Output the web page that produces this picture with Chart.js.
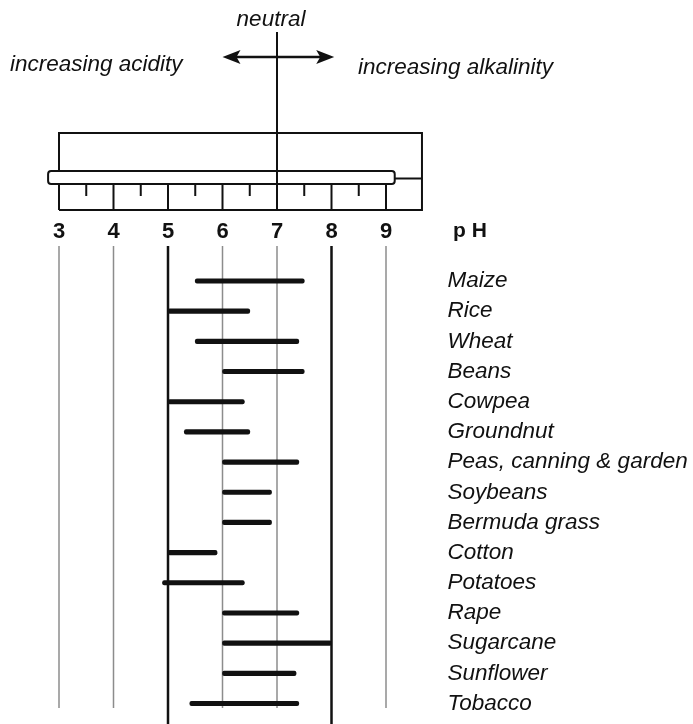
<!DOCTYPE html>
<html>
<head>
<meta charset="utf-8">
<script src="https://cdn.jsdelivr.net/npm/chart.js@4"></script>
<style>
  body { margin: 0; background: #fff; }
  #chart { display: block; }
</style>
</head>
<body>
<canvas id="chart" width="693" height="724"></canvas>
<script>
// crops and their pH range
const crops = ['Maize', 'Rice', 'Wheat', 'Beans', 'Cowpea', 'Groundnut', 'Peas, canning & garden',
  'Soybeans', 'Bermuda grass', 'Cotton', 'Potatoes', 'Rape', 'Sugarcane', 'Sunflower', 'Tobacco'];
const phLow  = [5.5, 5.0, 5.5, 6.0, 5.0, 5.3, 6.0, 6.0, 6.0, 5.0, 4.9, 6.0, 6.0, 6.0, 5.4];
const phHigh = [7.5, 6.5, 7.4, 7.5, 6.4, 6.5, 7.4, 6.9, 6.9, 5.9, 6.4, 7.4, 8.0, 7.35, 7.4];

const phTicks = [3, 4, 5, 6, 7, 8, 9];
const thinLines = [3, 4, 6, 7, 9];
const thickLines = [5, 8];

const font = '"Liberation Sans", Arial, Helvetica, sans-serif';

const rulerPlugin = {
  id: 'ruler',
  beforeDatasetsDraw(chart) {
    const ctx = chart.ctx;
    const x = chart.scales.x;
    ctx.save();
    ctx.lineCap = 'butt';
    ctx.strokeStyle = '#8c8c8c';
    ctx.lineWidth = 1.5;
    thinLines.forEach(v => {
      const px = x.getPixelForValue(v);
      ctx.beginPath(); ctx.moveTo(px, 246); ctx.lineTo(px, 708); ctx.stroke();
    });
    ctx.strokeStyle = '#111';
    ctx.lineWidth = 2.5;
    thickLines.forEach(v => {
      const px = x.getPixelForValue(v);
      ctx.beginPath(); ctx.moveTo(px, 246); ctx.lineTo(px, 724); ctx.stroke();
    });
    ctx.restore();
  },
  beforeDraw(chart) {
    const ctx = chart.ctx;
    const x = chart.scales.x;
    const px = v => x.getPixelForValue(v);
    ctx.save();
    ctx.strokeStyle = '#111';
    ctx.fillStyle = '#111';
    ctx.lineWidth = 2;

    const left = px(3), right = px(9.66);
    // outer box
    ctx.beginPath();
    ctx.moveTo(left, 210); ctx.lineTo(left, 133); ctx.lineTo(right, 133); ctx.lineTo(right, 210); ctx.lineTo(left, 210);
    ctx.stroke();
    // major / minor ticks
    phTicks.forEach(v => {
      ctx.beginPath(); ctx.moveTo(px(v), 184); ctx.lineTo(px(v), 210); ctx.stroke();
      if (v < 9) {
        ctx.beginPath(); ctx.moveTo(px(v + 0.5), 184); ctx.lineTo(px(v + 0.5), 196); ctx.stroke();
      }
    });
    // slider
    const sl = px(2.8), sr = px(9.16);
    ctx.beginPath(); ctx.moveTo(sr, 178.5); ctx.lineTo(right, 178.5); ctx.stroke();
    ctx.fillStyle = '#fff';
    ctx.beginPath(); ctx.roundRect(sl, 171, sr - sl, 13, 3); ctx.fill(); ctx.stroke();
    ctx.fillStyle = '#111';
    // neutral line
    ctx.beginPath(); ctx.moveTo(px(7), 32); ctx.lineTo(px(7), 210); ctx.stroke();
    // double arrow
    const a1 = px(6), a2 = px(8.05), ay = 57;
    ctx.lineWidth = 2.5;
    ctx.beginPath(); ctx.moveTo(a1 + 10, ay); ctx.lineTo(a2 - 10, ay); ctx.stroke();
    ctx.beginPath(); ctx.moveTo(a1, ay); ctx.lineTo(a1 + 18, ay - 7); ctx.lineTo(a1 + 14, ay); ctx.lineTo(a1 + 18, ay + 7); ctx.closePath(); ctx.fill();
    ctx.beginPath(); ctx.moveTo(a2, ay); ctx.lineTo(a2 - 18, ay - 7); ctx.lineTo(a2 - 14, ay); ctx.lineTo(a2 - 18, ay + 7); ctx.closePath(); ctx.fill();

    // texts
    ctx.textBaseline = 'middle';
    ctx.font = 'italic 22.5px ' + font;
    ctx.textAlign = 'center';
    ctx.fillText('neutral', 271, 20);
    ctx.textAlign = 'left';
    ctx.fillText('increasing acidity', 10, 65);
    ctx.fillText('increasing alkalinity', 358, 68);
    ctx.font = 'bold 21px ' + font;
    ctx.fillText('p H', 453, 231);
    ctx.restore();
  }
};

new Chart(document.getElementById('chart'), {
  type: 'bar',
  data: {
    labels: crops,
    datasets: [{
      data: crops.map((c, i) => [phLow[i], phHigh[i]]),
      backgroundColor: '#111',
      barThickness: 4.5,
      borderRadius: 2,
      borderSkipped: false,
      clip: false
    }]
  },
  options: {
    indexAxis: 'y',
    responsive: false,
    animation: false,
    layout: { padding: { left: 59, top: 221, right: 0, bottom: 10 } },
    plugins: { legend: { display: false }, tooltip: { enabled: false } },
    scales: {
      x: {
        type: 'linear',
        position: 'top',
        min: 3,
        max: 10,
        afterBuildTicks: s => { s.ticks = phTicks.map(v => ({ value: v })); },
        afterFit: s => { s.height = 60; },
        grid: { display: false, drawTicks: false },
        border: { display: false },
        ticks: { padding: 36, color: '#111', font: { family: font, size: 22, weight: 'bold' } }
      },
      y: {
        position: 'right',
        offset: false,
        afterFit: s => { s.width = 252.5; },
        grid: { display: false, drawTicks: false, offset: false },
        border: { display: false },
        ticks: { autoSkip: false, padding: 7, color: '#111', font: { family: font, size: 22.5, style: 'italic' } }
      }
    }
  },
  plugins: [rulerPlugin]
});
</script>
</body>
</html>
